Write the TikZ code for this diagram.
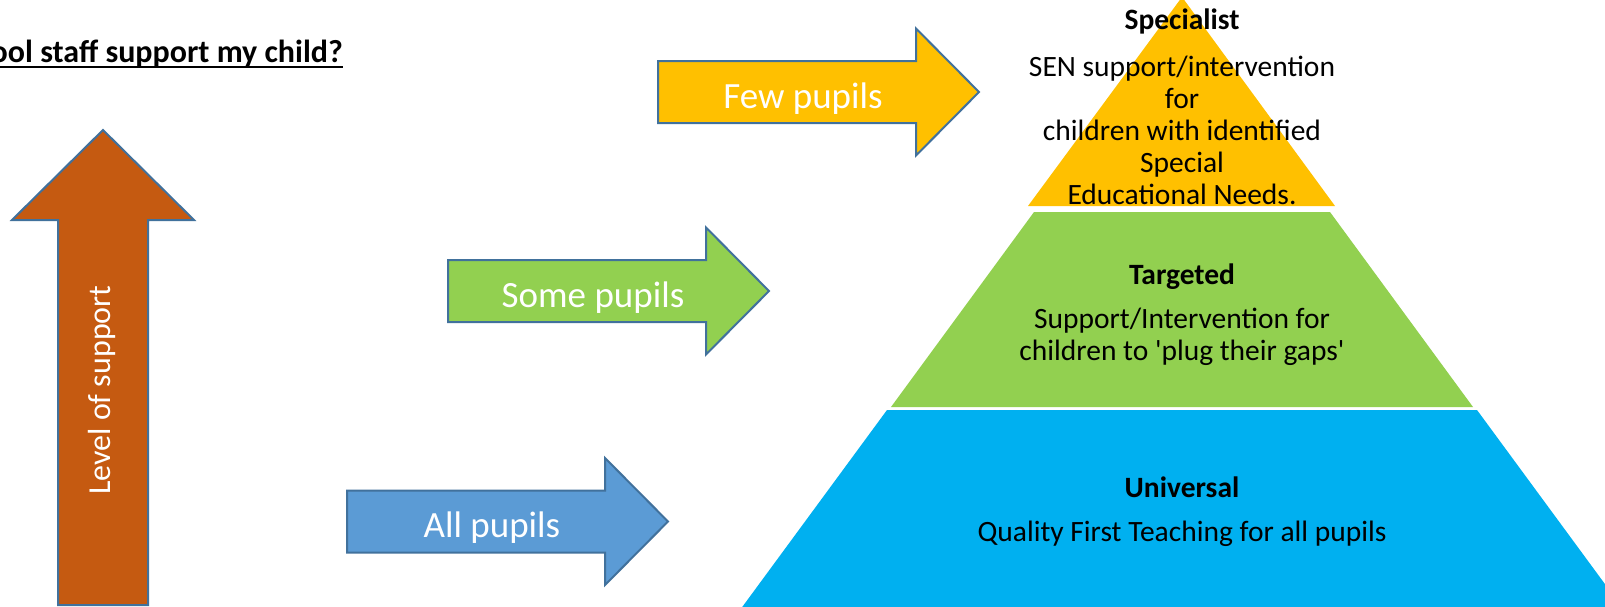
\documentclass[tikz,border=0pt]{standalone}
\usepackage{fontspec}
\setmainfont{Carlito}[Ligatures=TeXOff]

\definecolor{outline}{HTML}{41719C}
\definecolor{supportorange}{HTML}{C55A11}
\definecolor{fewyellow}{HTML}{FFC000}
\definecolor{somegreen}{HTML}{92D050}
\definecolor{allblue}{HTML}{5B9BD5}
\definecolor{univblue}{HTML}{00B0F0}

\tikzset{
  arrowline/.style={draw=outline, line width=2pt, line join=miter},
  arrowtext/.style={text=white, inner sep=0pt, font=\fontsize{37}{44}\selectfont},
  tier/.style={inner sep=0pt, align=center, font=\fontsize{29.5}{32}\selectfont}
}

% right pointing block arrow, from the middle of its left end
\newcommand{\pupilarrow}[3]{%
  \draw[arrowline, fill=#3] (#1,#2) ++(0,-31) -- ++(258,0) -- ++(0,-32.5)
    -- ++(63,63.5) -- ++(-63,63.5) -- ++(0,-32.5) -- ++(-258,0) -- cycle;}

\begin{document}
\begin{tikzpicture}[x=1pt,y=-1pt]
      \useasboundingbox[fill=white] (0,0) rectangle (1605,606);

      \node[anchor=base east, inner sep=0pt, font=\bfseries\fontsize{32}{38}\selectfont] (Title) at (343,62) {ool staff support my child?};
      \draw[line width=2pt] ([yshift=-5pt]Title.base west) -- ([yshift=-5pt]Title.base east);

      \draw[arrowline, fill=supportorange] (103,130) -- (194,220) -- (148,220) -- (148,605)
        -- (58,605) -- (58,220) -- (12,220) -- cycle;
      \node[arrowtext, font=\fontsize{32}{40}\selectfont, rotate=90, anchor=base] (Level) at (110,390) {Level of support};

      \pupilarrow{658}{92}{fewyellow}
      \node[arrowtext, anchor=base] (Few) at (803,108) {Few pupils};
      \pupilarrow{448}{291}{somegreen}
      \node[arrowtext, anchor=base] (Some) at (593,307) {Some pupils};
      \pupilarrow{347}{521.5}{allblue}
      \node[arrowtext, anchor=base] (All) at (492,537) {All pupils};

      \fill[fewyellow] (1182,-3) -- (1335,206) -- (1028,206) -- cycle;
      \fill[somegreen] (1034,212) -- (1330,212) -- (1473,407) -- (891,407) -- cycle;
      \fill[univblue] (887,410) -- (1477,410) -- (1624,610) -- (740,610) -- cycle;

      % multi-line texts sit on the baseline of their last line
      \node[tier, anchor=base] (Spec) at (1182,29) {\bfseries Specialist};
      \node[tier, anchor=base] (SpecText) at (1182,204) {SEN support/intervention\\for\\children with identified\\Special\\Educational Needs.};
      \node[tier, anchor=base] (Targ) at (1182,284) {\bfseries Targeted};
      \node[tier, anchor=base] (TargText) at (1182,360) {Support/Intervention for\\children to 'plug their gaps'};
      \node[tier, anchor=base] (Univ) at (1182,497) {\bfseries Universal};
      \node[tier, anchor=base] (UnivText) at (1182,541) {Quality First Teaching for all pupils};
    \end{tikzpicture}
\end{document}
